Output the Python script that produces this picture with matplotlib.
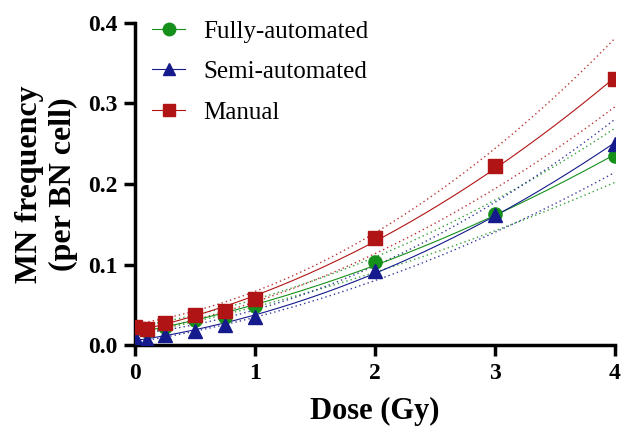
import numpy as np
import matplotlib
matplotlib.use("Agg")
from matplotlib import pyplot as plt

# doses and MN frequencies
dose = [0, 0.1, 0.25, 0.5, 0.75, 1, 2, 3, 4]
fully = [0.020, 0.018, 0.022, 0.031, 0.035, 0.048, 0.103, 0.163, 0.235]
semi = [0.010, 0.006, 0.013, 0.018, 0.025, 0.035, 0.092, 0.162, 0.250]
manual = [0.022, 0.020, 0.027, 0.037, 0.043, 0.057, 0.133, 0.222, 0.330]

# 95% confidence band edges, read at whole doses
band_dose = [0, 1, 2, 3, 4]
fully_hi = [0.023, 0.056, 0.110, 0.180, 0.269]
fully_lo = [0.015, 0.044, 0.090, 0.146, 0.200]
semi_hi = [0.014, 0.042, 0.100, 0.177, 0.280]
semi_lo = [0.006, 0.030, 0.080, 0.145, 0.212]
manual_hi = [0.027, 0.065, 0.140, 0.245, 0.380]
manual_lo = [0.017, 0.050, 0.112, 0.200, 0.293]

series = [
    ("Fully-automated", fully, fully_hi, fully_lo, "o", "#15901a"),
    ("Semi-automated", semi, semi_hi, semi_lo, "^", "#151a8c"),
    ("Manual", manual, manual_hi, manual_lo, "s", "#b01414"),
]

plt.rcParams['font.family'] = ['Liberation Serif', 'DejaVu Serif']

fig = plt.figure(figsize=(6.26, 4.32), dpi=100)
ax = fig.add_axes([0.216, 0.201, 0.766, 0.746])

xx = np.linspace(0, 4, 200)

for name, y, hi, lo, mk, col in series:
    # linear-quadratic fit Y = C + aD + bD^2
    fit = np.polyval(np.polyfit(dose, y, 2), xx)
    up = np.polyval(np.polyfit(band_dose, hi, 2), xx)
    dn = np.polyval(np.polyfit(band_dose, lo, 2), xx)
    ax.plot(xx, fit, color=col, lw=0.8, zorder=2)
    ax.plot(xx, up, color=col, lw=1.0, ls=(0, (1, 2.2)), alpha=0.85, zorder=1)
    ax.plot(xx, dn, color=col, lw=1.0, ls=(0, (1, 2.2)), alpha=0.85, zorder=1)
    ax.plot(dose, y, ls='none', marker=mk, ms=9.5, color=col, zorder=3,
            label=name)

leg_handles = [plt.Line2D([], [], color=col, lw=0.8, marker=mk, ms=9)
               for name, y, hi, lo, mk, col in series]
ax.legend(leg_handles, [s[0] for s in series], loc='upper left', frameon=False,
          fontsize=18, handlelength=1.3, borderaxespad=0.0,
          bbox_to_anchor=(0.015, 1.04), labelspacing=0.72, handletextpad=0.75)

ax.set_xlim(0, 4)
ax.set_ylim(0, 0.4)
ax.set_xticks([0, 1, 2, 3, 4])
ax.set_yticks([0.0, 0.1, 0.2, 0.3, 0.4])
ax.set_yticklabels(["0.0", "0.1", "0.2", "0.3", "0.4"])
for sp in ['top', 'right']:
    ax.spines[sp].set_visible(False)
for sp in ['left', 'bottom']:
    ax.spines[sp].set_linewidth(2.5)
ax.tick_params(width=2.5, length=8, labelsize=17, pad=5)
for lab in ax.get_xticklabels() + ax.get_yticklabels():
    lab.set_fontweight('bold')
ax.set_xlabel("Dose (Gy)", fontsize=22, fontweight='bold', labelpad=9)
ax.set_ylabel("MN frequency\n(per BN cell)", fontsize=23, fontweight='bold',
              labelpad=7)

fig.savefig("out.png", dpi=100)
